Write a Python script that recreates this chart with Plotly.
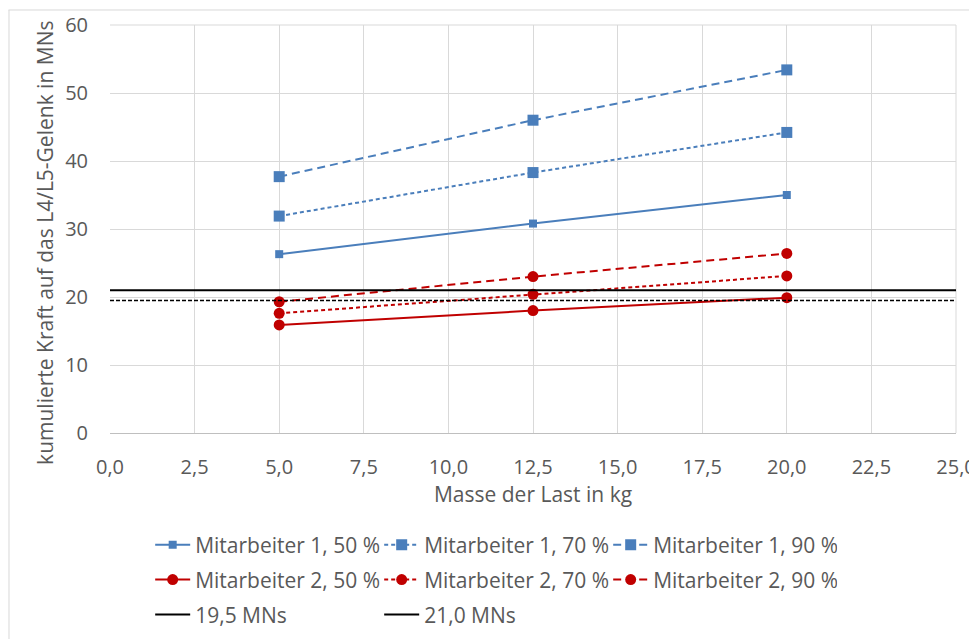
import plotly.graph_objects as go

# Data
masse = [5.0, 12.5, 20.0]
m1_50 = [26.3, 30.8, 35.0]
m1_70 = [31.9, 38.3, 44.2]
m1_90 = [37.7, 46.0, 53.4]
m2_50 = [15.9, 18.0, 19.9]
m2_70 = [17.6, 20.4, 23.1]
m2_90 = [19.3, 23.0, 26.4]
grenz_x = [0.0, 25.0]
grenz_195 = [19.5, 19.5]
grenz_210 = [21.0, 21.0]
y_title = "kumulierte Kraft auf das L4/L5-Gelenk in MNs"
x_title = "Masse der Last in kg"

BLUE = "#4a7ebb"
RED = "#c00000"
GREY = "#595959"
FONT = "Open Sans"
FS = 20
FL = 21

fig = go.Figure()

def add(name, y, color, dash, symbol, msize, legend):
    fig.add_trace(go.Scatter(
        x=masse, y=y, name=name, mode="lines+markers",
        line=dict(color=color, width=2, dash=dash),
        marker=dict(color=color, symbol=symbol, size=msize),
        legend=legend))

add("Mitarbeiter 1, 50 %", m1_50, BLUE, "solid", "square", 8, "legend")
add("Mitarbeiter 1, 70 %", m1_70, BLUE, "4px,3px", "square", 11, "legend")
add("Mitarbeiter 1, 90 %", m1_90, BLUE, "8px,5px", "square", 11, "legend")
add("Mitarbeiter 2, 50 %", m2_50, RED, "solid", "circle", 11, "legend2")
add("Mitarbeiter 2, 70 %", m2_70, RED, "4px,3px", "circle", 11, "legend2")
add("Mitarbeiter 2, 90 %", m2_90, RED, "8px,5px", "circle", 11, "legend2")

fig.add_trace(go.Scatter(x=grenz_x, y=grenz_195, name="19,5 MNs", mode="lines",
                         line=dict(color="black", width=1.5, dash="4px,2px"),
                         showlegend=False))
fig.add_trace(go.Scatter(x=[None], y=[None], name="19,5 MNs", mode="lines",
                         line=dict(color="black", width=2), legend="legend3"))
fig.add_trace(go.Scatter(x=grenz_x, y=grenz_210, name="21,0 MNs", mode="lines",
                         line=dict(color="black", width=2), legend="legend3"))

def leg(y):
    return dict(orientation="h", x=0.0475, xanchor="left", y=y, yanchor="middle",
                entrywidth=179, entrywidthmode="pixels",
                font=dict(family=FONT, size=FL, color=GREY),
                bgcolor="rgba(0,0,0,0)", itemwidth=35)

# the page body has an 8px margin: figure is shifted by 8px right/down
fig.update_layout(
    width=969, height=631,
    margin=dict(l=102, r=21, t=17, b=206, autoexpand=False),
    paper_bgcolor="white", plot_bgcolor="white",
    separators=",.",
    font=dict(family=FONT, size=FS, color=GREY),
    legend=leg(-0.2745), legend2=leg(-0.360), legend3=leg(-0.446),
    xaxis=dict(range=[0, 25], dtick=2.5, tick0=0, tickformat=".1f",
               showgrid=True, gridcolor="#d9d9d9", gridwidth=1,
               showline=True, linecolor="#bfbfbf", linewidth=1, mirror=False,
               zeroline=False, ticks="outside", ticklen=16, tickcolor="rgba(0,0,0,0)",
               automargin=False,
               tickfont=dict(family=FONT, size=FS, color=GREY),
               title=dict(text=x_title, standoff=8,
                          font=dict(family=FONT, size=FL, color=GREY))),
    yaxis=dict(range=[0, 60], dtick=10, showgrid=True, gridcolor="#d9d9d9", gridwidth=1,
               zeroline=False, showline=False,
               ticks="outside", ticklen=17, tickcolor="rgba(0,0,0,0)",
               automargin=False,
               tickfont=dict(family=FONT, size=FS, color=GREY)),
    annotations=[
        dict(text=y_title, textangle=-90, xref="paper", yref="paper",
             x=-0.0768, y=0.466, xanchor="center", yanchor="middle", showarrow=False,
             font=dict(family=FONT, size=FL, color=GREY)),
    ],
    shapes=[
        dict(type="line", xref="paper", yref="paper", x0=1, x1=1, y0=0, y1=1,
             line=dict(color="#d9d9d9", width=1), layer="below"),
        dict(type="line", xref="paper", yref="paper", x0=0, x1=1, y0=1, y1=1,
             line=dict(color="#d9d9d9", width=1), layer="below"),
        dict(type="line", xref="paper", yref="paper", x0=-0.12, x1=1.04, y0=1.0368, y1=1.0368,
             line=dict(color="#d9d9d9", width=1), layer="below"),
        dict(type="line", xref="paper", yref="paper", x0=-0.1194, x1=-0.1194, y0=-0.53, y1=1.0368,
             line=dict(color="#d9d9d9", width=1), layer="below"),
    ],
)

fig.write_html("out.html")
